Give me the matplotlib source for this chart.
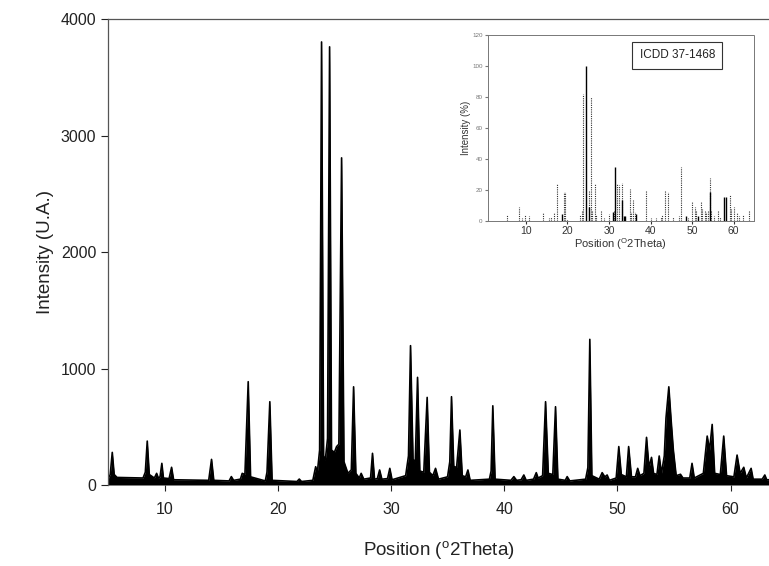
import matplotlib
matplotlib.use("Agg")
import matplotlib.pyplot as plt

# XRD trace (degrees 2-theta, counts)
two_theta = [
    5.0, 5.2, 5.38, 5.55, 5.8, 8.1, 8.3, 8.47, 8.65, 9.1, 9.3, 9.45, 9.6, 9.76, 9.9,
    10.4, 10.62, 10.8, 13.9, 14.15, 14.35, 15.7, 15.9, 16.1, 16.7, 16.86, 17.1, 17.39,
    17.6, 18.9, 19.05, 19.3, 19.5, 21.7, 21.9, 22.1, 23.1, 23.35, 23.5, 23.7, 23.87,
    24.05, 24.2, 24.4, 24.58, 24.75, 25.0, 25.2, 25.4, 25.64, 25.85, 26.2, 26.5, 26.7,
    26.9, 27.2, 27.37, 27.6, 28.2, 28.37, 28.55, 28.8, 29.0, 29.2, 29.7, 29.9, 30.1,
    31.3, 31.55, 31.73, 31.95, 32.15, 32.35, 32.55, 32.9, 33.2, 33.4, 33.7, 33.94, 34.2,
    35.0, 35.2, 35.35, 35.55, 35.8, 36.09, 36.3, 36.6, 36.8, 37.0, 38.7, 38.85, 39.0,
    39.2, 40.6, 40.86, 41.1, 41.5, 41.74, 41.95, 42.6, 42.84, 43.0, 43.4, 43.66, 43.9,
    44.3, 44.54, 44.75, 45.4, 45.57, 45.8, 47.2, 47.4, 47.57, 47.75, 48.4, 48.66, 48.9,
    49.1, 49.3, 49.9, 50.13, 50.35, 50.8, 51.0, 51.25, 51.6, 51.8, 52.0, 52.35, 52.58,
    52.8, 53.02, 53.2, 53.5, 53.7, 53.9, 54.15, 54.3, 54.55, 54.75, 54.95, 55.2, 55.58,
    55.8, 56.4, 56.6, 56.8, 57.6, 57.94, 58.15, 58.38, 58.6, 59.1, 59.4, 59.65, 60.3,
    60.58, 60.85, 61.17, 61.4, 61.82, 62.0, 62.8, 63.03, 63.2, 63.4,
]
intensity = [
    50, 90, 280, 90, 65, 60, 110, 377, 90, 60, 100, 60, 70, 186, 60,
    55, 152, 45, 40, 220, 40, 35, 72, 40, 50, 100, 90, 887,
    70, 35, 110, 715, 40, 30, 51, 30, 40, 157, 110, 300, 3803,
    250, 214, 400, 3761, 300, 280, 330, 350, 2808, 200, 100, 130, 843,
    100, 60, 100, 50, 60, 272, 50, 55, 129, 50, 55, 143, 45,
    80, 250, 1196, 220, 200, 924, 120, 110, 752, 110, 80, 143, 50,
    70, 200, 758, 160, 150, 472, 80, 70, 129, 40, 50, 120, 680,
    50, 40, 72, 40, 45, 86, 40, 50, 106, 60, 80, 715, 100,
    90, 672, 50, 40, 72, 35, 50, 150, 1250, 80, 50, 106, 70,
    86, 40, 60, 330, 90, 70, 330, 70, 70, 143, 80, 100, 409,
    150, 237, 100, 90, 249, 100, 250, 575, 843, 560, 300, 80, 92,
    60, 60, 186, 60, 100, 420, 300, 520, 100, 90, 420, 80, 70,
    257, 100, 152, 60, 143, 50, 50, 86, 45, 45,
]

# ICDD 37-1468 reference sticks (relative intensity, %)
ref_pos = [
    5.36, 8.4, 9.2, 9.9, 10.7, 14.2, 15.6, 16.0, 16.7, 17.4, 19.1, 19.45, 19.9,
    23.1, 23.5, 23.8, 25.2, 25.6, 26.0, 26.6, 27.0, 28.2, 28.75, 29.95, 31.2,
    31.95, 32.4, 33.1, 35.0, 35.4, 35.8, 36.2, 38.8, 40.2, 41.25, 42.45, 42.86,
    43.4, 44.3, 45.3, 46.85, 47.3, 48.9, 49.9, 50.6, 51.0, 52.05, 52.5, 53.0,
    53.4, 53.8, 54.2, 54.6, 55.25, 56.2, 56.8, 59.0, 59.4, 60.2, 60.8, 61.4,
    62.2, 63.7,
]
ref_int = [
    3.9, 8.8, 2, 3.9, 3, 5.2, 2, 2.6, 5.4, 23.9, 18.9, 18.9, 1.5,
    3.6, 6.9, 82, 19.6, 79.8, 6.9, 23.9, 3.6, 7.3, 2, 4.3, 6.9,
    23.9, 23.2, 24.7, 20.4, 5.8, 13.3, 5.8, 20, 2, 2, 2.6, 3.6,
    20, 19, 2.6, 3, 35, 2, 12.3, 9, 7.3, 12.3, 8, 6.9,
    5.8, 6.9, 28, 6.9, 3, 7.3, 2.6, 17, 8, 8.8, 5.2, 3,
    3.9, 6.5,
]
# sticks that print solid black
ref_solid_pos = [18.8, 24.4, 25.2, 31.0, 31.55, 33.1, 33.6, 33.96, 36.6, 48.46, 51.5, 54.2, 57.7, 58.1]
ref_solid_int = [4.3, 100, 9, 5.8, 35, 13.8, 3, 3, 4.3, 3, 3, 18.5, 15.5, 15.5]

plt.rcParams['font.family'] = ['Liberation Sans', 'DejaVu Sans']
plt.rcParams['mathtext.fontset'] = 'custom'
plt.rcParams['mathtext.rm'] = 'Liberation Sans'

fig = plt.figure(figsize=(7.69, 5.66), dpi=100)
ax = fig.add_axes([0.1404, 0.1431, 0.8596, 0.8233])

ax.fill_between(two_theta, intensity, 0, color='black', lw=0)
ax.plot(two_theta, intensity, color='black', lw=1.2)
ax.set_xlim(5, 63.4)
ax.set_ylim(0, 4000)
ax.set_xticks([10, 20, 30, 40, 50, 60])
ax.set_yticks([0, 1000, 2000, 3000, 4000])
ax.tick_params(axis='both', direction='out', labelsize=11.5, colors='#222222')
ax.tick_params(axis='y', length=5, width=0.8)
ax.tick_params(axis='x', length=4, width=0.8, pad=8)
for side in ['right', 'bottom']:
    ax.spines[side].set_visible(False)
for side in ['left', 'top']:
    ax.spines[side].set_color('#555555')
    ax.spines[side].set_linewidth(0.9)
ax.set_xlabel(r'Position ($^{\mathrm{o}}$2Theta)', fontsize=13.5, labelpad=16, color='#222222')
ax.set_ylabel('Intensity (U.A.)', fontsize=13.5, labelpad=5, color='#222222')

# inset with the reference pattern
ins = fig.add_axes([0.634, 0.6095, 0.346, 0.3286])
ins.vlines(ref_pos, 0, ref_int, colors='#333333', linestyles=(0, (1, 1)), lw=0.8)
ins.vlines(ref_solid_pos, 0, ref_solid_int, colors='black', lw=1.0)
ins.set_xlim(0.8, 64.8)
ins.set_ylim(0, 120)
ins.set_xticks([10, 20, 30, 40, 50, 60])
ins.set_yticks([0, 20, 40, 60, 80, 100, 120])
ins.tick_params(axis='x', labelsize=7.5, length=2, pad=1.5, colors='#333333')
ins.tick_params(axis='y', labelsize=4.5, length=2, pad=1.5, colors='#777777')
for s in ins.spines.values():
    s.set_color('#777777')
    s.set_linewidth(0.7)
    s.set_linestyle((0, (1, 1)))
ins.set_xlabel(r'Position ($^{\mathrm{O}}$2Theta)', fontsize=8, labelpad=0, color='#333333')
ins.set_ylabel('Intensity (%)', fontsize=7, labelpad=1, color='#333333')
ins.text(0.713, 0.89, 'ICDD 37-1468', transform=ins.transAxes, ha='center', va='center',
         fontsize=8.5, color='#222222',
         bbox=dict(boxstyle='square,pad=0.6', fc='white', ec='#333333', lw=0.8))

fig.savefig('out.png', dpi=100)
